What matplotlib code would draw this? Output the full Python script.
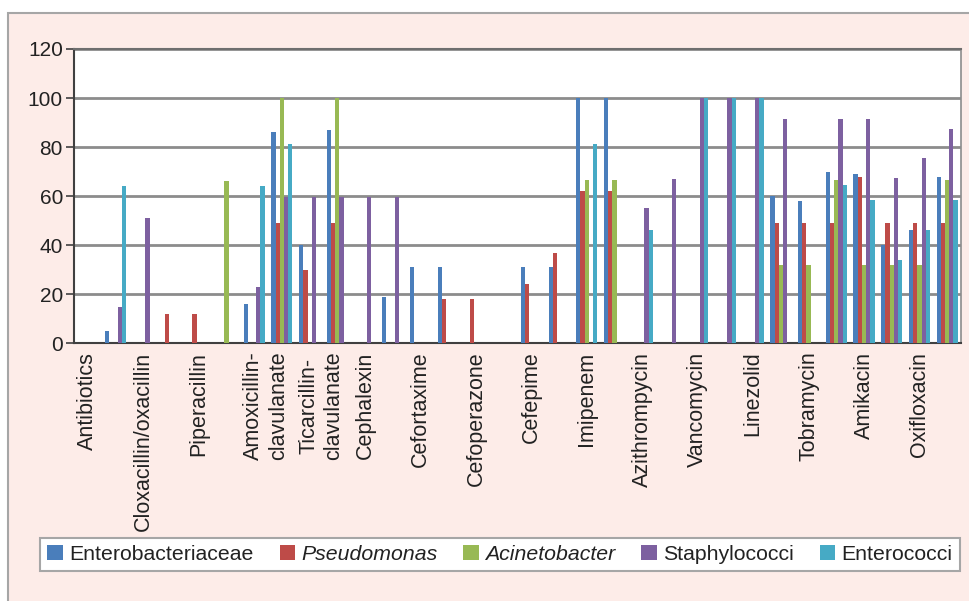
import numpy as np
import matplotlib
import matplotlib.pyplot as plt
from matplotlib.patches import Rectangle, Patch
from matplotlib.transforms import ScaledTranslation

matplotlib.use('Agg')

plt.rcParams['font.family'] = ['Liberation Sans', 'DejaVu Sans']

# labels only sit on every second slot of the category axis
drug_labels = ["Antibiotics", "Cloxacillin/oxacillin", "Piperacillin",
               "Amoxicillin-\nclavulanate", "Ticarcillin-\nclavulanate",
               "Cephalexin", "Cefortaxime", "Cefoperazone", "Cefepime",
               "Imipenem", "Azithrompycin", "Vancomycin", "Linezolid",
               "Tobramycin", "Amikacin", "Oxifloxacin"]

series_names = ["Enterobacteriaceae", "Pseudomonas", "Acinetobacter",
                "Staphylococci", "Enterococci"]
series_colors = ["#4A7EBB", "#BE4B48", "#98B954", "#7D60A0", "#46AAC5"]

enterobacteriaceae = [0, 5, 0, 0, 0, 0, 16, 86, 40, 87, 0, 19, 31, 31, 0, 0,
                      31, 31, 100, 100, 0, 0, 0, 0, 0, 60, 58, 70, 69, 40, 46, 68]
pseudomonas = [0, 0, 0, 12, 12, 0, 0, 49, 30, 49, 0, 0, 0, 18, 18, 0,
               24, 37, 62, 62, 0, 0, 0, 0, 0, 49, 49, 49, 68, 49, 49, 49]
acinetobacter = [0, 0, 0, 0, 0, 66, 0, 100, 0, 100, 0, 0, 0, 0, 0, 0,
                 0, 0, 66.5, 66.5, 0, 0, 0, 0, 0, 32, 32, 66.5, 32, 32, 32, 66.5]
staphylococci = [0, 15, 51, 0, 0, 0, 23, 59.5, 59.5, 59.5, 59.5, 59.5, 0, 0, 0, 0,
                 0, 0, 0, 0, 55, 67, 100, 100, 100, 91.6, 0, 91.6, 91.6, 67.6, 75.5, 87.4]
enterococci = [0, 64, 0, 0, 0, 0, 64, 81.4, 0, 0, 0, 0, 0, 0, 0, 0,
               0, 0, 81.4, 0, 46, 0, 100, 100, 100, 0, 0, 64.5, 58.4, 34, 46, 58.4]

all_series = [enterobacteriaceae, pseudomonas, acinetobacter, staphylococci, enterococci]

W, H = 969, 601
fig = plt.figure(figsize=(W / 100, H / 100), dpi=100, facecolor='white')

# pink panel with grey frame
fig.add_artist(Rectangle((8 / W, -0.05), 1.2, (H - 13) / H + 0.05,
                         transform=fig.transFigure, facecolor='#FDECE8',
                         edgecolor='#A6A6A6', linewidth=1.5, zorder=-10))

ax = fig.add_axes([74 / W, 1 - 343.3 / H, 887 / W, 294.3 / H])
ax.set_facecolor('white')

n = len(enterobacteriaceae)
x = np.arange(n)
bw = 0.152
for i, (vals, col, name) in enumerate(zip(all_series, series_colors, series_names)):
    ax.bar(x + (i - 2) * bw, vals, width=bw, color=col, edgecolor='none',
           label=name, zorder=3)

ax.set_xlim(-0.5, n - 0.5)
ax.set_ylim(0, 120)
ax.set_yticks(np.arange(0, 121, 20))
ax.tick_params(axis='y', labelsize=15, length=6, width=1.2, color='#404040',
               labelcolor='#222222', pad=2)
ax.yaxis.grid(True, color='#8C8C8C', linewidth=2)
ax.set_axisbelow(True)

ax.set_xticks(np.arange(0, n, 2))
ax.set_xticklabels(drug_labels, rotation=90, fontsize=15.5, color='#222222',
                   va='top', ha='center', linespacing=1.25)
ax.tick_params(axis='x', length=0, pad=6)
for lab in ax.get_xticklabels():
    if '\n' in lab.get_text():
        lab.set_transform(lab.get_transform() +
                          ScaledTranslation(12 / 100, 0, fig.dpi_scale_trans))

for side in ['left', 'bottom']:
    ax.spines[side].set_color('#404040')
    ax.spines[side].set_linewidth(1.5)
ax.spines['top'].set_color('#6E6E6E')
ax.spines['top'].set_linewidth(1.5)
ax.spines['right'].set_color('#8C8C8C')
ax.spines['right'].set_linewidth(1.2)

handles = [Patch(facecolor=c, edgecolor='none') for c in series_colors]
leg = fig.legend(handles, series_names, loc='center',
                 bbox_to_anchor=(40 / W, 1 - 573 / H, 920 / W, 37 / H),
                 mode='expand', ncol=5, fontsize=15.3, frameon=True,
                 fancybox=False, edgecolor='#A6A6A6', framealpha=1,
                 handlelength=0.72, handleheight=0.72, handletextpad=0.3,
                 borderaxespad=0, borderpad=0.35)
leg.get_frame().set_linewidth(1.5)
for t in leg.get_texts():
    t.set_color('#222222')
for t in leg.get_texts()[1:3]:
    t.set_style('italic')

fig.savefig('out.png', dpi=100, facecolor=fig.get_facecolor())
